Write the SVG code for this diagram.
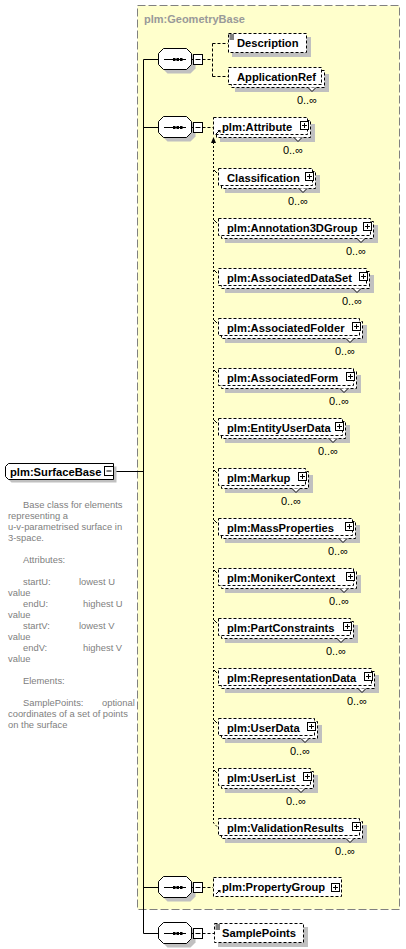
<svg xmlns="http://www.w3.org/2000/svg" width="406" height="949" viewBox="0 0 406 949">
<style>
.sh{fill:#c0c0c0}
.bx{fill:#fff;stroke:#000;stroke-width:1;stroke-dasharray:3,2}
.solid{fill:#fff;stroke:#000;stroke-width:1}
.ln{fill:none;stroke:#000;stroke-width:1}
.dl{fill:none;stroke:#000;stroke-width:1;stroke-dasharray:3,2}
.sub{fill:none;stroke:#000;stroke-width:1;stroke-dasharray:2,2}
.v{fill:#fff;stroke:#000;stroke-width:1}
.el{font-family:"Liberation Sans",Arial,sans-serif;font-weight:bold;font-size:11.2px;fill:#000}
.occ{font-family:"Liberation Sans",Arial,sans-serif;font-size:11px;fill:#000;text-anchor:end}
.doc{font-family:"Liberation Sans",Arial,sans-serif;font-size:9.4px;fill:#808080}
.grp{font-family:"Liberation Sans",Arial,sans-serif;font-weight:bold;font-size:11px;fill:#999}
</style>
<defs>
<g id="plus"><rect x="0.5" y="0.5" width="8" height="8" fill="#fff" stroke="#000"/><path d="M2 4.5H7M4.5 2V7" stroke="#000" fill="none"/></g>
<g id="seq">
<polygon class="sh" points="9.5,-6.5 32.5,-6.5 37.5,-1.5 37.5,9.5 32.5,14.5 9.5,14.5 4.5,9.5 4.5,-1.5"/>
<polygon class="solid" points="5.5,-10.5 28.5,-10.5 33.5,-5.5 33.5,5.5 28.5,10.5 5.5,10.5 0.5,5.5 0.5,-5.5"/>
<path class="ln" d="M6 0.5H28"/>
<rect x="15" y="-1" width="2.5" height="3"/><rect x="18.5" y="-1" width="2.5" height="3"/><rect x="22" y="-1" width="2.5" height="3"/>
<path class="ln" d="M33.5 0.5H35.5"/>
<rect class="solid" x="35.5" y="-4.5" width="9" height="10"/>
<path class="ln" d="M37.5 0.5H42.5"/>
</g>
</defs>

<g id="geometrybase">
<rect x="137.5" y="5.5" width="262" height="904" fill="#ffffcc" stroke="#808080" stroke-dasharray="8,3"/>
<text class="grp" x="144" y="22.5">plm:GeometryBase</text>
</g>

<g id="connectors">
<path class="ln" d="M113.5 471.5H143.5M143.5 59.5V933.5M143.5 59.5H158.5M143.5 127.5H158.5M143.5 887.5H158.5M143.5 933.5H158.5"/>
<path class="dl" d="M202.5 59.5H212.5M212.5 43.5V76.5M212.5 43.5H228M212.5 76.5H228M202.5 127.5H213M202.5 887.5H213M202.5 933.5H214"/>
<path class="sub" d="M213.5 142V823L217.5 827"/>
<polygon points="213.5,137 211,143 216,143" fill="#000"/>
<path class="ln" d="M214 170L217 173M214 220L217 223M214 270L217 273M214 320L217 323M214 370L217 373M214 420L217 423M214 470L217 473M214 520L217 523M214 570L217 573M214 620L217 623M214 670L217 673M214 720L217 723M214 770L217 773"/>
</g>

<g id="surfacebase">
<polygon class="sh" points="11.5,466.5 116.5,466.5 116.5,482.5 11.5,482.5 8.5,479.5 8.5,469.5"/>
<polygon class="solid" points="8.5,463.5 113.5,463.5 113.5,479.5 8.5,479.5 5.5,476.5 5.5,466.5"/>
<text class="el" x="10" y="475.5">plm:SurfaceBase</text>
<rect class="solid" x="104.5" y="466.5" width="9" height="9"/>
<path class="ln" d="M106.5 471H111.5"/>
<text class="doc" x="23" y="507.5">Base class for elements</text>
<text class="doc" x="8" y="518.5">representing a</text>
<text class="doc" x="8" y="529.5">u-v-parametrised surface in</text>
<text class="doc" x="8" y="540.5">3-space.</text>
<text class="doc" x="23" y="562.5">Attributes:</text>
<text class="doc" y="584.5"><tspan x="23">startU:</tspan><tspan x="79">lowest U</tspan></text>
<text class="doc" x="8" y="595.5">value</text>
<text class="doc" y="606.5"><tspan x="23">endU:</tspan><tspan x="83">highest U</tspan></text>
<text class="doc" x="8" y="617.5">value</text>
<text class="doc" y="628.5"><tspan x="23">startV:</tspan><tspan x="79">lowest V</tspan></text>
<text class="doc" x="8" y="639.5">value</text>
<text class="doc" y="650.5"><tspan x="23">endV:</tspan><tspan x="83">highest V</tspan></text>
<text class="doc" x="8" y="661.5">value</text>
<text class="doc" x="23" y="683.5">Elements:</text>
<text class="doc" y="705.5"><tspan x="23">SamplePoints:</tspan><tspan x="102">optional</tspan></text>
<text class="doc" x="8" y="716.5">coordinates of a set of points</text>
<text class="doc" x="8" y="727.5">on the surface</text>
</g>

<g id="seq1"><use href="#seq" transform="translate(158,59)"/></g>
<g id="seq2"><use href="#seq" transform="translate(158,127)"/></g>
<g id="seq3"><use href="#seq" transform="translate(158,887)"/></g>
<g id="seq4"><use href="#seq" transform="translate(158,933)"/></g>

<g id="description">
<rect class="sh" x="232" y="37" width="79" height="20"/>
<rect class="bx" x="228.5" y="33.5" width="78" height="19"/>
<path class="ln" d="M229.5 35H234M229.5 37H234M229.5 39H234"/>
<text class="el" x="237" y="47">Description</text>
</g>

<g id="applicationref">
<rect class="sh" x="235" y="74" width="94" height="18"/>
<rect class="bx" x="231.5" y="70.5" width="93" height="17"/>
<rect class="bx" x="228.5" y="67.5" width="93" height="17"/>
<text class="el" x="237" y="80.5">ApplicationRef</text>
<path class="v" d="M308 87.5L312 91.5L316 87.5"/>
<text class="occ" x="317" y="103.5">0..∞</text>
</g>

<g id="attribute">
<rect class="sh" x="220" y="124" width="95" height="18"/>
<rect class="bx" x="216.5" y="120.5" width="94" height="17"/>
<rect class="bx" x="213.5" y="117.5" width="94" height="17"/>
<path class="ln" d="M216 134L219.5 130.5"/>
<polygon points="217.5,130 220.5,130 220.5,133" fill="#000"/>
<text class="el" x="222" y="130.5">plm:Attribute</text>
<use href="#plus" x="300" y="121"/>
<path class="v" d="M294 137.5L298 141.5L302 137.5"/>
<text class="occ" x="303" y="153.5">0..∞</text>
</g>

<g id="classification">
<rect class="sh" x="225" y="175" width="95" height="18"/>
<rect class="bx" x="221.5" y="171.5" width="94" height="17"/>
<rect class="bx" x="218.5" y="168.5" width="94" height="17"/>
<text class="el" x="227" y="181.5">Classification</text>
<use href="#plus" x="305" y="172"/>
<path class="v" d="M299 188.5L303 192.5L307 188.5"/>
<text class="occ" x="308" y="204.5">0..∞</text>
</g>

<g id="annotation3dgroup">
<rect class="sh" x="225" y="225" width="153" height="18"/>
<rect class="bx" x="221.5" y="221.5" width="152" height="17"/>
<rect class="bx" x="218.5" y="218.5" width="152" height="17"/>
<text class="el" x="227" y="231.5">plm:Annotation3DGroup</text>
<use href="#plus" x="363" y="222"/>
<path class="v" d="M357 238.5L361 242.5L365 238.5"/>
<text class="occ" x="366" y="254.5">0..∞</text>
</g>

<g id="associateddataset">
<rect class="sh" x="225" y="275" width="149" height="18"/>
<rect class="bx" x="221.5" y="271.5" width="148" height="17"/>
<rect class="bx" x="218.5" y="268.5" width="148" height="17"/>
<text class="el" x="227" y="281.5">plm:AssociatedDataSet</text>
<use href="#plus" x="359" y="272"/>
<path class="v" d="M353 288.5L357 292.5L361 288.5"/>
<text class="occ" x="362" y="304.5">0..∞</text>
</g>

<g id="associatedfolder">
<rect class="sh" x="225" y="325" width="142" height="18"/>
<rect class="bx" x="221.5" y="321.5" width="141" height="17"/>
<rect class="bx" x="218.5" y="318.5" width="141" height="17"/>
<text class="el" x="227" y="331.5">plm:AssociatedFolder</text>
<use href="#plus" x="352" y="322"/>
<path class="v" d="M346 338.5L350 342.5L354 338.5"/>
<text class="occ" x="355" y="354.5">0..∞</text>
</g>

<g id="associatedform">
<rect class="sh" x="225" y="375" width="136" height="18"/>
<rect class="bx" x="221.5" y="371.5" width="135" height="17"/>
<rect class="bx" x="218.5" y="368.5" width="135" height="17"/>
<text class="el" x="227" y="381.5">plm:AssociatedForm</text>
<use href="#plus" x="346" y="372"/>
<path class="v" d="M340 388.5L344 392.5L348 388.5"/>
<text class="occ" x="349" y="404.5">0..∞</text>
</g>

<g id="entityuserdata">
<rect class="sh" x="225" y="425" width="125" height="18"/>
<rect class="bx" x="221.5" y="421.5" width="124" height="17"/>
<rect class="bx" x="218.5" y="418.5" width="124" height="17"/>
<text class="el" x="227" y="431.5">plm:EntityUserData</text>
<use href="#plus" x="335" y="422"/>
<path class="v" d="M329 438.5L333 442.5L337 438.5"/>
<text class="occ" x="338" y="454.5">0..∞</text>
</g>

<g id="markup">
<rect class="sh" x="225" y="475" width="88" height="18"/>
<rect class="bx" x="221.5" y="471.5" width="87" height="17"/>
<rect class="bx" x="218.5" y="468.5" width="87" height="17"/>
<text class="el" x="227" y="481.5">plm:Markup</text>
<use href="#plus" x="298" y="472"/>
<path class="v" d="M292 488.5L296 492.5L300 488.5"/>
<text class="occ" x="301" y="504.5">0..∞</text>
</g>

<g id="massproperties">
<rect class="sh" x="225" y="525" width="135" height="18"/>
<rect class="bx" x="221.5" y="521.5" width="134" height="17"/>
<rect class="bx" x="218.5" y="518.5" width="134" height="17"/>
<text class="el" x="227" y="531.5">plm:MassProperties</text>
<use href="#plus" x="345" y="522"/>
<path class="v" d="M339 538.5L343 542.5L347 538.5"/>
<text class="occ" x="348" y="554.5">0..∞</text>
</g>

<g id="monikercontext">
<rect class="sh" x="225" y="575" width="136" height="18"/>
<rect class="bx" x="221.5" y="571.5" width="135" height="17"/>
<rect class="bx" x="218.5" y="568.5" width="135" height="17"/>
<text class="el" x="227" y="581.5">plm:MonikerContext</text>
<use href="#plus" x="346" y="572"/>
<path class="v" d="M340 588.5L344 592.5L348 588.5"/>
<text class="occ" x="349" y="604.5">0..∞</text>
</g>

<g id="partconstraints">
<rect class="sh" x="225" y="625" width="133" height="18"/>
<rect class="bx" x="221.5" y="621.5" width="132" height="17"/>
<rect class="bx" x="218.5" y="618.5" width="132" height="17"/>
<text class="el" x="227" y="631.5">plm:PartConstraints</text>
<use href="#plus" x="343" y="622"/>
<path class="v" d="M337 638.5L341 642.5L345 638.5"/>
<text class="occ" x="346" y="654.5">0..∞</text>
</g>

<g id="representationdata">
<rect class="sh" x="225" y="675" width="154" height="18"/>
<rect class="bx" x="221.5" y="671.5" width="153" height="17"/>
<rect class="bx" x="218.5" y="668.5" width="153" height="17"/>
<text class="el" x="227" y="681.5">plm:RepresentationData</text>
<use href="#plus" x="364" y="672"/>
<path class="v" d="M358 688.5L362 692.5L366 688.5"/>
<text class="occ" x="367" y="704.5">0..∞</text>
</g>

<g id="userdata">
<rect class="sh" x="225" y="725" width="97" height="18"/>
<rect class="bx" x="221.5" y="721.5" width="96" height="17"/>
<rect class="bx" x="218.5" y="718.5" width="96" height="17"/>
<text class="el" x="227" y="731.5">plm:UserData</text>
<use href="#plus" x="307" y="722"/>
<path class="v" d="M301 738.5L305 742.5L309 738.5"/>
<text class="occ" x="310" y="754.5">0..∞</text>
</g>

<g id="userlist">
<rect class="sh" x="225" y="775" width="93" height="18"/>
<rect class="bx" x="221.5" y="771.5" width="92" height="17"/>
<rect class="bx" x="218.5" y="768.5" width="92" height="17"/>
<text class="el" x="227" y="781.5">plm:UserList</text>
<use href="#plus" x="303" y="772"/>
<path class="v" d="M297 788.5L301 792.5L305 788.5"/>
<text class="occ" x="306" y="804.5">0..∞</text>
</g>

<g id="validationresults">
<rect class="sh" x="225" y="825" width="142" height="18"/>
<rect class="bx" x="221.5" y="821.5" width="141" height="17"/>
<rect class="bx" x="218.5" y="818.5" width="141" height="17"/>
<text class="el" x="227" y="831.5">plm:ValidationResults</text>
<use href="#plus" x="352" y="822"/>
<path class="v" d="M346 838.5L350 842.5L354 838.5"/>
<text class="occ" x="355" y="854.5">0..∞</text>
</g>

<g id="propertygroup">
<rect class="bx" x="213.5" y="877.5" width="128" height="19"/>
<path class="ln" d="M216 894L219.5 890.5"/>
<polygon points="217.5,890 220.5,890 220.5,893" fill="#000"/>
<text class="el" x="222" y="891">plm:PropertyGroup</text>
<use href="#plus" x="331" y="883"/>
</g>

<g id="samplepoints">
<rect class="sh" x="218" y="927" width="90" height="20"/>
<rect class="bx" x="214.5" y="923.5" width="89" height="19"/>
<path class="ln" d="M215.5 925H220M215.5 927H220M215.5 929H220"/>
<text class="el" x="222" y="937">SamplePoints</text>
</g>
</svg>
